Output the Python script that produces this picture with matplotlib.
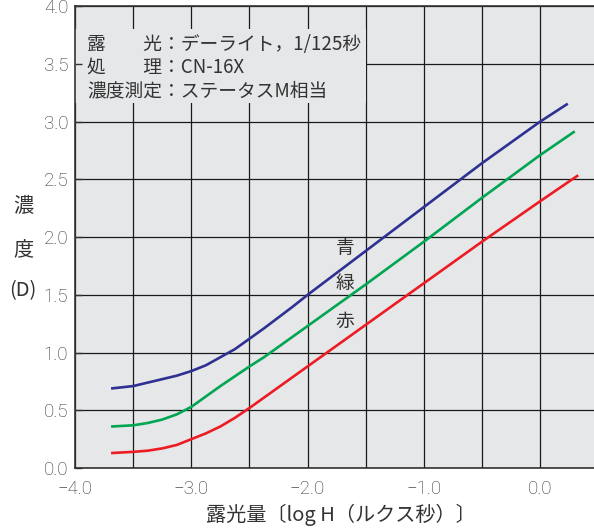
import matplotlib
matplotlib.use("Agg")
import matplotlib.pyplot as plt
from matplotlib.patches import Rectangle

# Characteristic curves: density vs. log exposure (log lux-seconds)
log_h_blue = [-3.68, -3.5, -3.375, -3.25, -3.125, -3.0, -2.875, -2.75, -2.625, -2.5,
              -2.375, -2.25, -2.125, -2.0, -1.5, -1.0, -0.5, 0.0, 0.23]
dens_blue = [0.69, 0.71, 0.74, 0.77, 0.80, 0.84, 0.89, 0.96, 1.03, 1.12,
             1.21, 1.305, 1.40, 1.50, 1.88, 2.26, 2.64, 3.00, 3.15]

log_h_green = [-3.68, -3.5, -3.375, -3.25, -3.125, -3.0, -2.875, -2.75, -2.625, -2.5,
               -2.375, -2.25, -2.125, -2.0, -1.5, -1.0, -0.5, 0.0, 0.29]
dens_green = [0.36, 0.37, 0.39, 0.42, 0.465, 0.53, 0.62, 0.71, 0.795, 0.88,
              0.96, 1.05, 1.14, 1.23, 1.59, 1.96, 2.34, 2.71, 2.91]

log_h_red = [-3.68, -3.5, -3.375, -3.25, -3.125, -3.0, -2.875, -2.75, -2.625, -2.5,
             -2.375, -2.25, -2.125, -2.0, -1.5, -1.0, -0.5, 0.0, 0.32]
dens_red = [0.13, 0.14, 0.15, 0.17, 0.20, 0.25, 0.30, 0.36, 0.435, 0.52,
            0.61, 0.70, 0.79, 0.88, 1.24, 1.60, 1.96, 2.31, 2.53]

x_ticks = [-4.0, -3.0, -2.0, -1.0, 0.0]
x_tick_labels = ["\u22124.0", "\u22123.0", "\u22122.0", "\u22121.0", "0.0"]
x_minor = [-3.5, -2.5, -1.5, -0.5]
y_ticks = [0.0, 0.5, 1.0, 1.5, 2.0, 2.5, 3.0, 3.5, 4.0]
y_tick_labels = ["0.0", "0.5", "1.0", "1.5", "2.0", "2.5", "3.0", "3.5", "4.0"]

curve_names = ["青", "緑", "赤"]
info_lines = ["露\u3000\u3000光：デーライト，1/125秒",
              "処\u3000\u3000理：CN-16X",
              "濃度測定：ステータスM相当"]
x_label = "露光量〔log H（ルクス秒）〕"
y_label_parts = ["濃", "度", "(D)"]

BG = "#e6e7e9"
INK = "#333333"
JP = ["Noto Sans CJK JP", "DejaVu Sans"]
NUM = ["Roboto", "DejaVu Sans"]

W, H = 594, 532
fig = plt.figure(figsize=(W / 100, H / 100), dpi=100)
fig.patch.set_facecolor("white")

ax_left, ax_right = 75.2 / W, 1.0
ax_bottom, ax_top = (H - 468) / H, (H - 6.3) / H
ax = fig.add_axes([ax_left, ax_bottom, ax_right - ax_left, ax_top - ax_bottom])
ax.set_facecolor(BG)
ax.set_xlim(-4.0, 0.465)
ax.set_ylim(0.0, 4.0)
ax.set_axisbelow(True)

ax.set_xticks(x_ticks)
ax.set_xticklabels(x_tick_labels, family=NUM, fontsize=13.5, weight="light", color=INK)
ax.set_xticks(x_minor, minor=True)
ax.set_yticks(y_ticks)
ax.set_yticklabels(y_tick_labels, family=NUM, fontsize=13.5, weight="light", color=INK)
ax.tick_params(axis="both", which="both", length=0)
ax.tick_params(axis="x", pad=9)
ax.tick_params(axis="y", pad=5)
ax.grid(True, which="both", color="#1a1a1a", linewidth=0.9)

for side in ["left", "bottom", "top"]:
    ax.spines[side].set_color(INK)
    ax.spines[side].set_linewidth(1.2)
ax.spines["right"].set_visible(False)

# Info panel hides the grid behind the text
ax.add_patch(Rectangle((-4.0, 3.163), 2.505, 0.637, facecolor=BG,
                       edgecolor="none", zorder=1))

# Small inward tick marks on the left, drawn over the panel
sec = ax.secondary_yaxis("left")
sec.set_yticks(y_ticks)
sec.tick_params(direction="in", length=5, width=1.0, color=INK, labelleft=False)
sec.spines["left"].set_visible(False)
sec.set_zorder(5)

ax.plot(log_h_blue, dens_blue, color="#2e3192", linewidth=1.9, zorder=3,
        solid_joinstyle="round")
ax.plot(log_h_green, dens_green, color="#00a651", linewidth=1.9, zorder=3,
        solid_joinstyle="round")
ax.plot(log_h_red, dens_red, color="#ed1c24", linewidth=1.9, zorder=3,
        solid_joinstyle="round")

for name, yv in zip(curve_names, [1.905, 1.60, 1.27]):
    ax.text(-1.68, yv, name, family=JP, fontsize=13.5, color=INK,
            ha="center", va="center", zorder=4)

for i, line in enumerate(info_lines):
    fig.text(87 / W, 1 - (44.5 + 23 * i) / H, line, family=JP, fontsize=13.5,
             color=INK, ha="left", va="center", zorder=6)

fig.text(341 / W, 1 - 515 / H, x_label, family=JP, fontsize=14.5,
         color=INK, ha="center", va="center")
for part, py in zip(y_label_parts, [207, 250, 291]):
    fig.text(23 / W, 1 - py / H, part, family=JP, fontsize=14.5,
             color=INK, ha="center", va="center")

fig.savefig("out.png", dpi=100, facecolor="white")
